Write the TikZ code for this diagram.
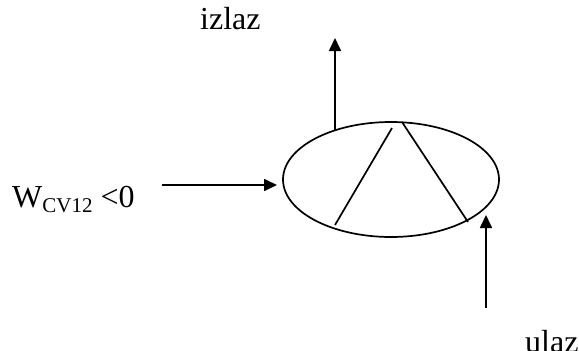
\documentclass[tikz,border=0pt]{standalone}
\usepackage{fontspec}
\setmainfont{Liberation Serif}
\usetikzlibrary{arrows.meta,shapes.geometric}
\begin{document}
\begin{tikzpicture}[x=1pt,y=-1pt,
  lbl/.style={anchor=base west,inner sep=0pt,font=\fontsize{32}{38}\selectfont},
  conn/.style={line width=1.7pt,-{Triangle[length=13pt,width=12pt]}},
  plain/.style={line width=1.7pt}]
\useasboundingbox (0,0) rectangle (579,351);
\clip (0,0) rectangle (579,351);
\node[draw,ellipse,line width=1.7pt,minimum width=216pt,minimum height=115pt,inner sep=0pt] (e) at (391,179.5) {};
\node[lbl] (w) at (12,207) {W\raisebox{-5pt}{\fontsize{21}{24}\selectfont CV12} <0};
\node[lbl] (iz) at (200,29) {izlaz};
\node[lbl] (ul) at (525,352) {ulaz};
\coordinate (topS) at (335,130.3);
\coordinate (topE) at (335,38);
\coordinate (leftS) at (162,185);
\coordinate (leftE) at (277,185);
\coordinate (rightS) at (486,308);
\coordinate (rightE) at (486,215);
\coordinate (a1) at (335,225);
\coordinate (a2) at (392,128);
\coordinate (b1) at (402,122);
\coordinate (b2) at (468,222);
\draw[conn] (topS) -- (topE);
\draw[conn] (leftS) -- (leftE);
\draw[conn] (rightS) -- (rightE);
\draw[plain] (a1) -- (a2);
\draw[plain] (b1) -- (b2);
\end{tikzpicture}
\end{document}
